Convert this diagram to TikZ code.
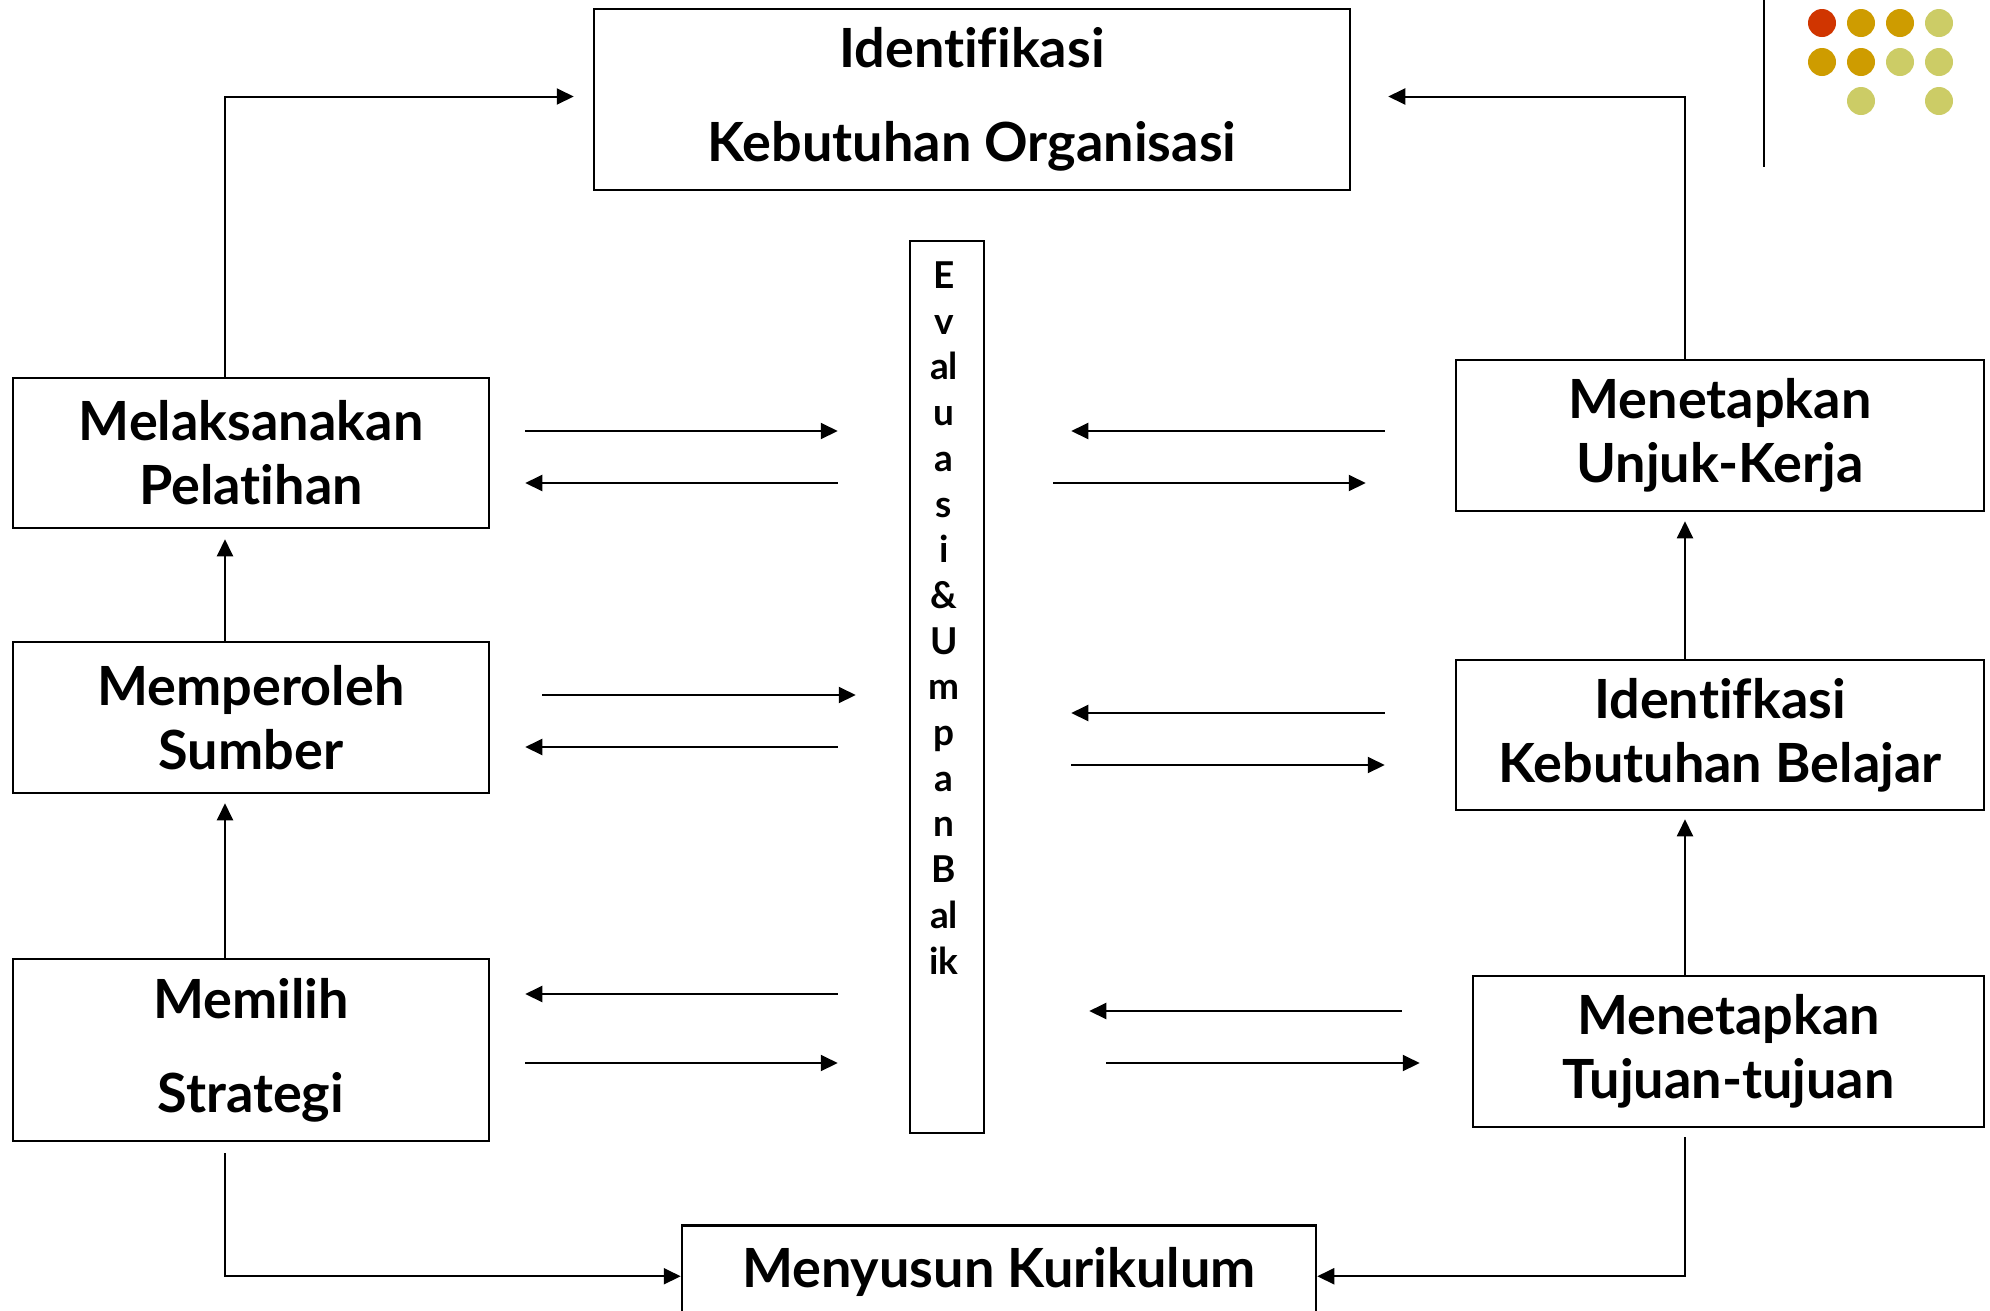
\documentclass[tikz,border=0pt]{standalone}
\usepackage{fontspec}
\setmainfont{Lato}[Ligatures=NoCommon]
\usetikzlibrary{arrows.meta,calc,positioning}

\definecolor{dotred}{RGB}{208,53,0}
\definecolor{dotgold}{RGB}{206,156,0}
\definecolor{dotolive}{RGB}{204,204,102}

\begin{document}
\begin{tikzpicture}[x=1pt, y=-1pt, line width=2pt, box/.style={draw, line width=2.5pt, rectangle, align=center, inner sep=0pt, font=\bfseries\fontsize{54}{64}\selectfont}, wide/.style={box, font=\bfseries\fontsize{54}{94}\selectfont}, flow/.style={-{Triangle[length=17pt,width=16pt]}}, dot/.style={circle, inner sep=0pt, minimum size=28pt}]
	\useasboundingbox (0,0) rectangle (1990,1310);

	% boxes
	\node[wide, minimum width=756pt, minimum height=181pt] (org) at (972,99.5) {Identifikasi\\Kebutuhan Organisasi};
	\node[box, minimum width=476pt, minimum height=150pt] (pl) at (251,453) {Melaksanakan\\Pelatihan};
	\node[box, minimum width=476pt, minimum height=151pt] (sb) at (251,717.5) {Memperoleh\\Sumber};
	\node[wide, minimum width=476pt, minimum height=182pt] (st) at (251,1050) {Memilih\\Strategi};
	\node[box, minimum width=528pt, minimum height=151pt] (uk) at (1720,435.5) {Menetapkan\\Unjuk-Kerja};
	\node[box, minimum width=528pt, minimum height=150pt] (kb) at (1720,735) {Identifkasi\\Kebutuhan Belajar};
	\node[box, minimum width=511pt, minimum height=151pt] (tj) at (1728.5,1051.5) {Menetapkan\\Tujuan-tujuan};
	\node[box, minimum width=634pt, anchor=north, text height=62pt, text depth=60pt] (mk) at (999,1224) {Menyusun Kurikulum};
	\node[draw, line width=2.5pt, minimum width=74pt, minimum height=892pt] (ev) at (947,687) {};
	\node[anchor=north, align=center, inner sep=0pt, font=\bfseries\fontsize{37}{45.7}\selectfont] (evtxt) at ([yshift=-21pt,xshift=-3pt]ev.north) {E\\v\\al\\u\\a\\s\\i\\\&\\U\\m\\p\\a\\n\\B\\al\\ik};

	\coordinate (lx) at (225,0);
	\coordinate (rx) at (1685,0);

	% main loop
	\draw[flow, shorten >=19pt] (pl.north -| lx) |- ([yshift=3pt]org.west);
	\draw[flow, shorten >=37pt] (uk.north -| rx) |- ([yshift=3pt]org.east);
	\draw[flow, shorten >=10pt] (sb.north -| lx) -- (pl.south -| lx);
	\draw[flow, shorten >=9pt] (st.north -| lx) -- (sb.south -| lx);
	\draw[flow, shorten <=11pt] (st.south -| lx) |- ([yshift=10pt]mk.west);
	\draw[flow, shorten <=9pt] (tj.south -| rx) |- ([yshift=10pt]mk.east);
	\draw[flow, shorten >=8pt] (tj.north -| rx) -- (kb.south -| rx);
	\draw[flow, shorten >=9pt] (kb.north -| rx) -- (uk.south -| rx);

	% feedback arrows, left
	\draw[flow, shorten <=35pt, shorten >=71pt] (pl.east |- 0,431) -- (ev.west |- 0,431);
	\draw[flow, shorten <=71pt, shorten >=35pt] (ev.west |- 0,483) -- (pl.east |- 0,483);
	\draw[flow, shorten <=52pt, shorten >=53pt] (sb.east |- 0,695) -- (ev.west |- 0,695);
	\draw[flow, shorten <=71pt, shorten >=35pt] (ev.west |- 0,747) -- (sb.east |- 0,747);
	\draw[flow, shorten <=71pt, shorten >=35pt] (ev.west |- 0,994) -- (st.east |- 0,994);
	\draw[flow, shorten <=35pt, shorten >=71pt] (st.east |- 0,1063) -- (ev.west |- 0,1063);

	% feedback arrows, right
	\draw[flow, shorten <=70pt, shorten >=86pt] (uk.west |- 0,431) -- (ev.east |- 0,431);
	\draw[flow, shorten <=68pt, shorten >=89pt] (ev.east |- 0,483) -- (uk.west |- 0,483);
	\draw[flow, shorten <=70pt, shorten >=86pt] (kb.west |- 0,713) -- (ev.east |- 0,713);
	\draw[flow, shorten <=86pt, shorten >=70pt] (ev.east |- 0,765) -- (kb.west |- 0,765);
	\draw[flow, shorten <=70pt, shorten >=104pt] (tj.west |- 0,1011) -- (ev.east |- 0,1011);
	\draw[flow, shorten <=121pt, shorten >=52pt] (ev.east |- 0,1063) -- (tj.west |- 0,1063);

	% corner ornament
	\draw[line width=2.5pt] (1764,0) -- (1764,167);
	\foreach \x/\y/\c in {1822/23/dotred, 1861/23/dotgold, 1900/23/dotgold, 1939/23/dotolive, 1822/62/dotgold, 1861/62/dotgold, 1900/62/dotolive, 1939/62/dotolive, 1861/101/dotolive, 1939/101/dotolive}
		\node[dot, fill=\c] at (\x,\y) {};
\end{tikzpicture}
\end{document}
